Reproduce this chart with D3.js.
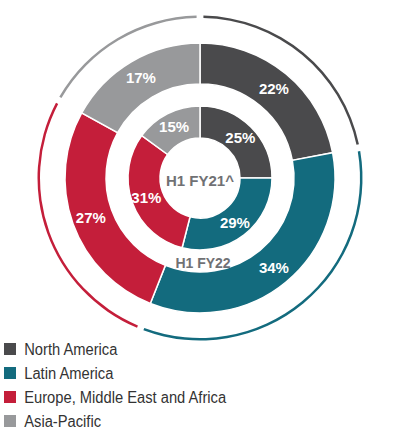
<!DOCTYPE html><html><head><meta charset="utf-8">
<script src="https://cdn.jsdelivr.net/npm/d3@7"></script>
<style>body{margin:0;background:#fff}</style></head><body>
<svg id="c" width="410" height="440"></svg>
<script>
const categories=["North America","Latin America","Europe, Middle East and Africa","Asia-Pacific"];
const colors=["#4a4a4c","#136b7e","#c41e3a","#98999b"];
const fy22=[22,34,27,17];
const fy21=[25,29,31,15];
const svg=d3.select("#c");
const g=svg.append("g").attr("transform","translate(200,178)");
const pie=d3.pie().sort(null).value(d=>d);
function ring(vals,ri,ro,lr){
  const arcs=pie(vals);
  const a=d3.arc().innerRadius(ri).outerRadius(ro);
  g.selectAll(null).data(arcs).enter().append("path").attr("d",a)
   .attr("fill",(d,i)=>colors[i]).attr("stroke","#fff").attr("stroke-width",1.5);
  const la=d3.arc().innerRadius(lr).outerRadius(lr);
  g.selectAll(null).data(arcs).enter().append("text").attr("transform",d=>`translate(${la.centroid(d)})`)
   .attr("text-anchor","middle").attr("dy","0.35em").attr("fill","#fff")
   .attr("font-family","Liberation Sans, Arial").attr("font-size",15).attr("font-weight","bold")
   .text(d=>d.data+"%");
  return arcs;
}
const outer=ring(fy22,94,135,116);
ring(fy21,40,72,57);
const thin=d3.arc().innerRadius(160).outerRadius(162.5).padAngle(0.03);
g.selectAll(null).data(outer).enter().append("path").attr("d",thin).attr("fill",(d,i)=>colors[i]);
g.append("text").attr("x",0).attr("y",3).attr("text-anchor","middle").attr("dy","0.35em")
 .attr("font-family","Liberation Sans, Arial").attr("font-size",15).attr("font-weight","bold").attr("fill","#707174").text("H1 FY21^");
g.append("text").attr("x",3).attr("y",85).attr("text-anchor","middle").attr("dy","0.35em")
 .attr("font-family","Liberation Sans, Arial").attr("font-size",14).attr("font-weight","bold").attr("fill","#707174").text("H1 FY22");
const y=d3.scaleBand().domain(categories).range([337,433]);
const lg=svg.selectAll(null).data(categories).enter().append("g").attr("transform",d=>`translate(4,${y(d)+y.bandwidth()/2})`);
lg.append("rect").attr("x",0).attr("y",-6).attr("width",12).attr("height",12).attr("fill",(d,i)=>colors[i]);
lg.append("text").attr("dy","0.35em").attr("font-family","Liberation Sans, Arial").attr("font-size",16)
 .attr("fill","#333").attr("transform","scale(0.92,1)").attr("x",22).text(d=>d);
</script></body></html>
